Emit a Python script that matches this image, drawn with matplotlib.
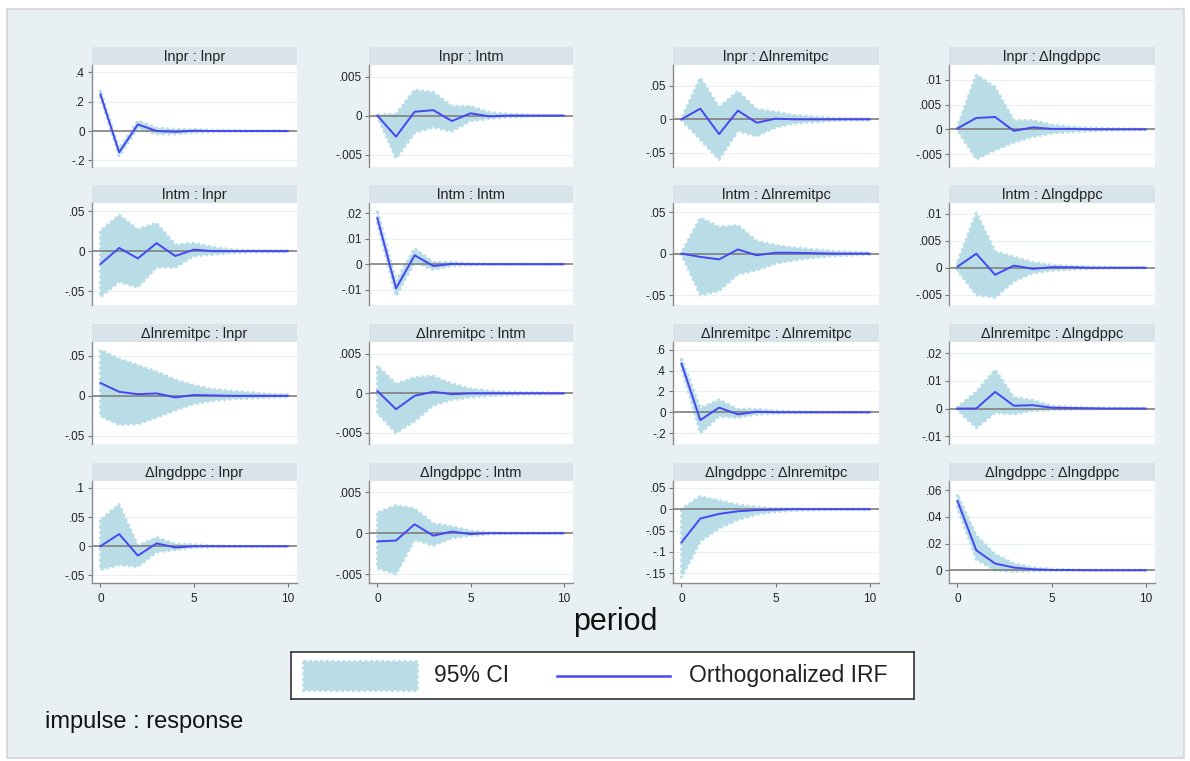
import matplotlib
matplotlib.use("Agg")
from matplotlib import pyplot as plt
from matplotlib.patches import Rectangle
from matplotlib.lines import Line2D

plt.rcParams['font.family'] = ['Liberation Sans', 'DejaVu Sans']

periods = [0, 1, 2, 3, 4, 5, 6, 7, 8, 9, 10]
variables = ["lnpr", "lntm", "Δlnremitpc", "Δlngdppc"]
x_ticks = [0, 5, 10]

# impulse lnpr
lnpr_lnpr_irf = [0.25, -0.145, 0.045, 0.0, -0.005, 0.002, 0.0, 0.0, 0.0, 0.0, 0.0]
lnpr_lnpr_lo = [0.225, -0.17, 0.02, -0.02, -0.02, -0.01, -0.006, -0.004, -0.002, -0.001, -0.001]
lnpr_lnpr_hi = [0.28, -0.12, 0.07, 0.02, 0.012, 0.012, 0.006, 0.004, 0.002, 0.001, 0.001]

lnpr_lntm_irf = [0.0, -0.0027, 0.0005, 0.0007, -0.0007, 0.0003, -0.0001, 0.0, 0.0, 0.0, 0.0]
lnpr_lntm_lo = [-0.0001, -0.0055, -0.0022, -0.0015, -0.002, -0.0007, -0.0004, -0.0002, -0.0001, 0.0, 0.0]
lnpr_lntm_hi = [0.0001, 0.0002, 0.0033, 0.003, 0.0012, 0.0012, 0.0004, 0.0002, 0.0001, 0.0, 0.0]

lnpr_remit_irf = [0.0, 0.016, -0.022, 0.013, -0.005, 0.001, 0.0, 0.0, 0.0, 0.0, 0.0]
lnpr_remit_lo = [-0.001, -0.03, -0.06, -0.017, -0.025, -0.012, -0.006, -0.004, -0.002, -0.001, -0.001]
lnpr_remit_hi = [0.001, 0.062, 0.018, 0.042, 0.015, 0.011, 0.006, 0.004, 0.002, 0.001, 0.001]

lnpr_gdp_irf = [0.0002, 0.0023, 0.0025, -0.0003, 0.0004, 0.0001, 0.0001, 0.0, 0.0, 0.0, 0.0]
lnpr_gdp_lo = [-0.0002, -0.006, -0.0042, -0.0026, -0.0015, -0.0008, -0.0005, -0.0003, -0.0002, -0.0001, -0.0001]
lnpr_gdp_hi = [0.0006, 0.011, 0.0085, 0.0018, 0.0018, 0.0009, 0.0005, 0.0003, 0.0002, 0.0001, 0.0001]

# impulse lntm
lntm_lnpr_irf = [-0.016, 0.004, -0.009, 0.01, -0.006, 0.002, 0.0, 0.0, 0.0, 0.0, 0.0]
lntm_lnpr_lo = [-0.057, -0.038, -0.045, -0.02, -0.02, -0.006, -0.004, -0.002, -0.001, -0.001, -0.001]
lntm_lnpr_hi = [0.025, 0.045, 0.027, 0.035, 0.008, 0.01, 0.005, 0.002, 0.001, 0.001, 0.001]

lntm_lntm_irf = [0.018, -0.0095, 0.0035, -0.0007, 0.0001, 0.0, 0.0, 0.0, 0.0, 0.0, 0.0]
lntm_lntm_lo = [0.016, -0.0125, 0.0008, -0.0021, -0.0006, -0.0003, -0.0001, 0.0, 0.0, 0.0, 0.0]
lntm_lntm_hi = [0.021, -0.0068, 0.0062, 0.0008, 0.0008, 0.0003, 0.0001, 0.0, 0.0, 0.0, 0.0]

lntm_remit_irf = [0.0, -0.004, -0.007, 0.005, -0.002, 0.001, 0.001, 0.0005, 0.0, 0.0, 0.0]
lntm_remit_lo = [-0.001, -0.05, -0.045, -0.025, -0.02, -0.012, -0.008, -0.005, -0.003, -0.002, -0.001]
lntm_remit_hi = [0.001, 0.043, 0.032, 0.034, 0.015, 0.01, 0.007, 0.005, 0.003, 0.002, 0.001]

lntm_gdp_irf = [0.0002, 0.0026, -0.0013, 0.0004, -0.0002, 0.0001, 0.0001, 0.0, 0.0, 0.0, 0.0]
lntm_gdp_lo = [-0.0005, -0.005, -0.0055, -0.0025, -0.001, -0.0005, -0.0003, -0.0002, -0.0001, 0.0, 0.0]
lntm_gdp_hi = [0.001, 0.0102, 0.003, 0.002, 0.001, 0.0005, 0.0003, 0.0002, 0.0001, 0.0, 0.0]

# impulse dlnremitpc
remit_lnpr_irf = [0.016, 0.005, 0.002, 0.003, -0.002, 0.001, 0.0005, 0.0, 0.0, 0.0, 0.0]
remit_lnpr_lo = [-0.025, -0.036, -0.035, -0.027, -0.018, -0.01, -0.006, -0.004, -0.003, -0.002, -0.0015]
remit_lnpr_hi = [0.057, 0.046, 0.038, 0.03, 0.02, 0.013, 0.008, 0.006, 0.004, 0.002, 0.0015]

remit_lntm_irf = [0.0003, -0.002, -0.0003, 0.0002, -0.0001, 0.0, 0.0, 0.0, 0.0, 0.0, 0.0]
remit_lntm_lo = [-0.0025, -0.005, -0.0035, -0.0015, -0.0008, -0.0005, -0.0003, -0.0002, -0.0001, -0.0001, 0.0]
remit_lntm_hi = [0.0035, 0.0012, 0.002, 0.0022, 0.0012, 0.0006, 0.0003, 0.0002, 0.0001, 0.0001, 0.0]

remit_remit_irf = [0.47, -0.075, 0.045, -0.02, 0.005, 0.0, 0.0, 0.0, 0.0, 0.0, 0.0]
remit_remit_lo = [0.43, -0.2, -0.04, -0.05, -0.02, -0.01, -0.005, -0.003, -0.002, -0.001, 0.0]
remit_remit_hi = [0.52, 0.04, 0.12, 0.03, 0.03, 0.015, 0.006, 0.003, 0.002, 0.001, 0.0]

remit_gdp_irf = [0.0, 0.0, 0.006, 0.001, 0.0012, 0.0003, 0.0002, 0.0001, 0.0, 0.0, 0.0]
remit_gdp_lo = [-0.0005, -0.007, -0.0015, -0.002, -0.0008, -0.0005, -0.0003, -0.0002, -0.0001, 0.0, 0.0]
remit_gdp_hi = [0.0005, 0.006, 0.014, 0.004, 0.003, 0.001, 0.0006, 0.0003, 0.0002, 0.0001, 0.0]

# impulse dlngdppc
gdp_lnpr_irf = [0.0, 0.021, -0.016, 0.005, -0.002, 0.0, 0.0, 0.0, 0.0, 0.0, 0.0]
gdp_lnpr_lo = [-0.04, -0.032, -0.035, -0.01, -0.006, -0.002, -0.001, 0.0, 0.0, 0.0, 0.0]
gdp_lnpr_hi = [0.045, 0.072, 0.001, 0.015, 0.004, 0.003, 0.001, 0.0, 0.0, 0.0, 0.0]

gdp_lntm_irf = [-0.001, -0.0009, 0.0011, -0.0003, 0.0002, -0.0001, 0.0, 0.0, 0.0, 0.0, 0.0]
gdp_lntm_lo = [-0.0043, -0.005, -0.0008, -0.0015, -0.0006, -0.0003, -0.0001, 0.0, 0.0, 0.0, 0.0]
gdp_lntm_hi = [0.0025, 0.0034, 0.003, 0.0012, 0.0008, 0.0003, 0.0001, 0.0, 0.0, 0.0, 0.0]

gdp_remit_irf = [-0.078, -0.022, -0.011, -0.005, -0.002, -0.001, 0.0, 0.0, 0.0, 0.0, 0.0]
gdp_remit_lo = [-0.16, -0.075, -0.045, -0.025, -0.012, -0.006, -0.003, -0.002, -0.001, 0.0, 0.0]
gdp_remit_hi = [0.0, 0.03, 0.02, 0.01, 0.005, 0.002, 0.001, 0.0, 0.0, 0.0, 0.0]

gdp_gdp_irf = [0.052, 0.015, 0.005, 0.002, 0.0007, 0.0002, 0.0001, 0.0, 0.0, 0.0, 0.0]
gdp_gdp_lo = [0.047, 0.008, 0.0, -0.001, -0.0005, -0.0003, -0.0002, -0.0001, 0.0, 0.0, 0.0]
gdp_gdp_hi = [0.057, 0.026, 0.012, 0.005, 0.002, 0.0009, 0.0004, 0.0002, 0.0001, 0.0, 0.0]

# y tick values per panel (row = impulse, col = response)
yticks_rows = [
    [[-0.2, 0, 0.2, 0.4], [-0.005, 0, 0.005], [-0.05, 0, 0.05], [-0.005, 0, 0.005, 0.01]],
    [[-0.05, 0, 0.05], [-0.01, 0, 0.01, 0.02], [-0.05, 0, 0.05], [-0.005, 0, 0.005, 0.01]],
    [[-0.05, 0, 0.05], [-0.005, 0, 0.005], [-0.2, 0, 0.2, 0.4, 0.6], [-0.01, 0, 0.01, 0.02]],
    [[-0.05, 0, 0.05, 0.1], [-0.005, 0, 0.005], [-0.15, -0.1, -0.05, 0, 0.05], [0, 0.02, 0.04, 0.06]],
]

panels = [
    [(lnpr_lnpr_irf, lnpr_lnpr_lo, lnpr_lnpr_hi), (lnpr_lntm_irf, lnpr_lntm_lo, lnpr_lntm_hi),
     (lnpr_remit_irf, lnpr_remit_lo, lnpr_remit_hi), (lnpr_gdp_irf, lnpr_gdp_lo, lnpr_gdp_hi)],
    [(lntm_lnpr_irf, lntm_lnpr_lo, lntm_lnpr_hi), (lntm_lntm_irf, lntm_lntm_lo, lntm_lntm_hi),
     (lntm_remit_irf, lntm_remit_lo, lntm_remit_hi), (lntm_gdp_irf, lntm_gdp_lo, lntm_gdp_hi)],
    [(remit_lnpr_irf, remit_lnpr_lo, remit_lnpr_hi), (remit_lntm_irf, remit_lntm_lo, remit_lntm_hi),
     (remit_remit_irf, remit_remit_lo, remit_remit_hi), (remit_gdp_irf, remit_gdp_lo, remit_gdp_hi)],
    [(gdp_lnpr_irf, gdp_lnpr_lo, gdp_lnpr_hi), (gdp_lntm_irf, gdp_lntm_lo, gdp_lntm_hi),
     (gdp_remit_irf, gdp_remit_lo, gdp_remit_hi), (gdp_gdp_irf, gdp_gdp_lo, gdp_gdp_hi)],
]

# layout (pixels) and y ranges
W, H = 1190, 761
col_px = [(92, 297), (369, 573), (673, 879), (949, 1155)]
row_px = [(65, 167), (203, 305), (342, 444), (481, 583)]
ylims = [
    [(-0.245, 0.45), (-0.0066, 0.0065), (-0.071, 0.081), (-0.0076, 0.013)],
    [(-0.067, 0.06), (-0.016, 0.024), (-0.062, 0.061), (-0.0069, 0.012)],
    [(-0.06, 0.067), (-0.0064, 0.0065), (-0.305, 0.676), (-0.0128, 0.024)],
    [(-0.063, 0.112), (-0.0061, 0.0064), (-0.173, 0.066), (-0.0096, 0.067)],
]

bg = "#e9f0f3"
strip_col = "#d8e4ea"
band_col = "#b8dde7"
line_col = "#4646f2"


def stata_fmt(v):
    s = format(v, "g")
    if s.startswith("0."):
        s = s[1:]
    elif s.startswith("-0."):
        s = "-" + s[2:]
    return s


def rect(x0, y0, x1, y1):
    return [x0 / W, 1 - y1 / H, (x1 - x0) / W, (y1 - y0) / H]


fig = plt.figure(figsize=(W / 100, H / 100), dpi=100)
fig.patch.set_facecolor("white")
fig.patches.append(Rectangle((7 / W, 1 - 758 / H), 1177 / W, 749 / H, transform=fig.transFigure,
                             facecolor=bg, edgecolor="#d4d4d4", linewidth=1.2, zorder=-5))

for r in range(4):
    for c in range(4):
        x0, x1 = col_px[c]
        y0, y1 = row_px[r]
        irf, lo, hi = panels[r][c]

        # strip header
        sax = fig.add_axes(rect(x0, y0 - 18, x1, y0))
        sax.set_facecolor(strip_col)
        sax.set_xticks([])
        sax.set_yticks([])
        for sp in sax.spines.values():
            sp.set_visible(False)
        sax.text(0.5, 0.45, variables[r] + " : " + variables[c], ha="center", va="center",
                 fontsize=10.5, color="#222222", transform=sax.transAxes)

        ax = fig.add_axes(rect(x0, y0, x1, y1))
        ax.set_facecolor("white")
        ax.fill_between(periods, lo, hi, facecolor=band_col, edgecolor=band_col,
                        linewidth=2.0, linestyle=(0, (1, 1)), zorder=2)
        ax.axhline(0, color="#808080", linewidth=1.2, zorder=3)
        ax.plot(periods, irf, color=line_col, linewidth=1.4, zorder=4)

        ax.set_xlim(-0.45, 10.5)
        ax.set_ylim(*ylims[r][c])
        ax.set_yticks(yticks_rows[r][c])
        ax.set_yticklabels([stata_fmt(v) for v in yticks_rows[r][c]])
        ax.yaxis.grid(True, color="#eaf1f4", linewidth=0.9, zorder=1)
        ax.set_axisbelow(True)
        ax.tick_params(axis="y", length=3, width=0.8, color="#777777", labelsize=8.5,
                       labelcolor="#222222", pad=2)
        for side in ["top", "right"]:
            ax.spines[side].set_visible(False)
        ax.spines["left"].set_color("#8a8a8a")
        ax.spines["left"].set_linewidth(1.0)
        if r == 3:
            ax.set_xticks(x_ticks)
            ax.set_xticklabels([str(t) for t in x_ticks])
            ax.tick_params(axis="x", length=3, width=0.8, color="#777777", labelsize=8.5,
                           labelcolor="#222222", pad=4)
            ax.spines["bottom"].set_color("#8a8a8a")
            ax.spines["bottom"].set_linewidth(1.0)
        else:
            ax.set_xticks([])
            ax.spines["bottom"].set_visible(False)

fig.text(615 / W, 1 - 622 / H, "period", ha="center", va="center", fontsize=22, color="#111111")

# legend box
lax = fig.add_axes(rect(291, 652, 914, 699))
lax.set_xlim(291, 914)
lax.set_ylim(699, 652)
lax.set_facecolor("white")
lax.set_xticks([])
lax.set_yticks([])
for sp in lax.spines.values():
    sp.set_color("#333333")
    sp.set_linewidth(1.2)
lax.add_patch(Rectangle((303, 661), 114, 29, facecolor=band_col, edgecolor=band_col,
                        linewidth=2.0, linestyle=(0, (1, 1))))
lax.text(434, 675.5, "95% CI", ha="left", va="center", fontsize=16.5, color="#222222")
lax.add_line(Line2D([557, 670], [675.5, 675.5], color=line_col, linewidth=1.8))
lax.text(689, 675.5, "Orthogonalized IRF", ha="left", va="center", fontsize=16.5, color="#222222")

fig.text(45 / W, 1 - 722 / H, "impulse : response", ha="left", va="center", fontsize=17,
         color="#111111")

fig.savefig("out.png", dpi=100, facecolor=fig.get_facecolor())
